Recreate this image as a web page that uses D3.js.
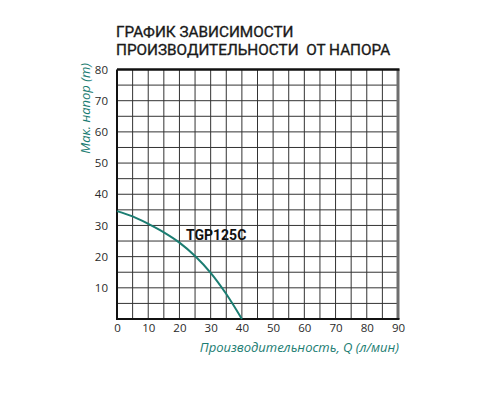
<!DOCTYPE html>
<html><head><meta charset="utf-8">
<script src="https://cdn.jsdelivr.net/npm/d3@7"></script>
<style>body{margin:0;background:#fff}</style>
</head><body>
<svg id="c" width="500" height="400"></svg>
<script>
const titleLines = ["ГРАФИК ЗАВИСИМОСТИ", "ПРОИЗВОДИТЕЛЬНОСТИ  ОТ НАПОРА"];
const xTicks = [0,10,20,30,40,50,60,70,80,90];
const yTicks = [10,20,30,40,50,60,70,80];
const flowQ = [0, 5, 10, 15, 20, 25, 30, 35, 40];
const headH = [34.6, 32.9, 30.5, 27.8, 24.5, 20.2, 14.8, 8.0, 0];
const seriesName = "TGP125C";
const xLabel = "Производительность, Q (л/мин)";
const yLabel = "Мак. напор (m)";

const svg = d3.select("#c");
const L = 117, R = 398, T = 69.5, B = 319;
const x = d3.scaleLinear().domain([0,90]).range([L,R]);
const y = d3.scaleLinear().domain([0,80]).range([B,T]);
const teal = "#1b7d72";

// title
svg.selectAll("text.title").data(titleLines).join("text")
  .attr("x",116).attr("y",(d,i)=>37+i*17.5)
  .attr("font-family","Roboto, 'Open Sans', sans-serif").attr("font-size",15.3)
  .attr("fill","#1a1a1a").attr("stroke","#1a1a1a").attr("stroke-width",0.35)
  .style("font-weight",400).style("white-space","pre")
  .text(d=>d);

// grid
const gv = d3.range(5,90,5), gh = d3.range(5,80,5);
svg.append("g").selectAll("line").data(gv).join("line")
  .attr("x1",d=>x(d)).attr("x2",d=>x(d)).attr("y1",T).attr("y2",B)
  .attr("stroke","#333").attr("stroke-width",1);
svg.append("g").selectAll("line").data(gh).join("line")
  .attr("y1",d=>y(d)).attr("y2",d=>y(d)).attr("x1",L).attr("x2",R)
  .attr("stroke","#333").attr("stroke-width",1);

// frame
svg.append("line").attr("x1",R).attr("x2",R).attr("y1",T).attr("y2",B)
  .attr("stroke","#6e6e6e").attr("stroke-width",3);
svg.append("line").attr("x1",L).attr("x2",R+1.5).attr("y1",T).attr("y2",T)
  .attr("stroke","#111").attr("stroke-width",2.5);
svg.append("line").attr("x1",L).attr("x2",L).attr("y1",T).attr("y2",B)
  .attr("stroke","#111").attr("stroke-width",2);
svg.append("line").attr("x1",L-1).attr("x2",R+1.5).attr("y1",B).attr("y2",B)
  .attr("stroke","#111").attr("stroke-width",2);

// axes (ticks as text via d3 axes)
const xa = svg.append("g").attr("transform",`translate(0,${B+1})`)
  .call(d3.axisBottom(x).tickValues(xTicks).tickSize(0).tickPadding(4));
xa.select(".domain").remove();
xa.selectAll("text").attr("font-family","'Open Sans', sans-serif").attr("font-size",11.5).attr("fill","#2a2a2a");
const ya = svg.append("g").attr("transform",`translate(${L-9},0)`)
  .call(d3.axisLeft(y).tickValues(yTicks).tickSize(0).tickPadding(0));
ya.select(".domain").remove();
ya.selectAll("text").attr("font-family","'Open Sans', sans-serif").attr("font-size",11.5).attr("fill","#2a2a2a");

// curve
const pts = flowQ.map((q,i)=>[q,headH[i]]);
svg.append("path").datum(pts)
  .attr("d", d3.line().x(d=>x(d[0])).y(d=>y(d[1])).curve(d3.curveMonotoneX))
  .attr("fill","none").attr("stroke",teal).attr("stroke-width",2);

svg.append("text").attr("x",186).attr("y",239.5)
  .attr("font-family","Roboto, Arial, sans-serif").attr("font-weight","bold").attr("font-size",14)
  .attr("fill","#111").text(seriesName);

// axis titles
svg.append("text").attr("x",399).attr("y",352).attr("text-anchor","end")
  .attr("font-family","'Open Sans', sans-serif").attr("font-style","italic").attr("font-size",13)
  .attr("fill",teal).text(xLabel);
svg.append("text").attr("transform","translate(90,63) rotate(-90)").attr("text-anchor","end")
  .attr("font-family","'Open Sans', sans-serif").attr("font-style","italic").attr("font-size",13)
  .attr("fill",teal).text(yLabel);
</script>
</body></html>
